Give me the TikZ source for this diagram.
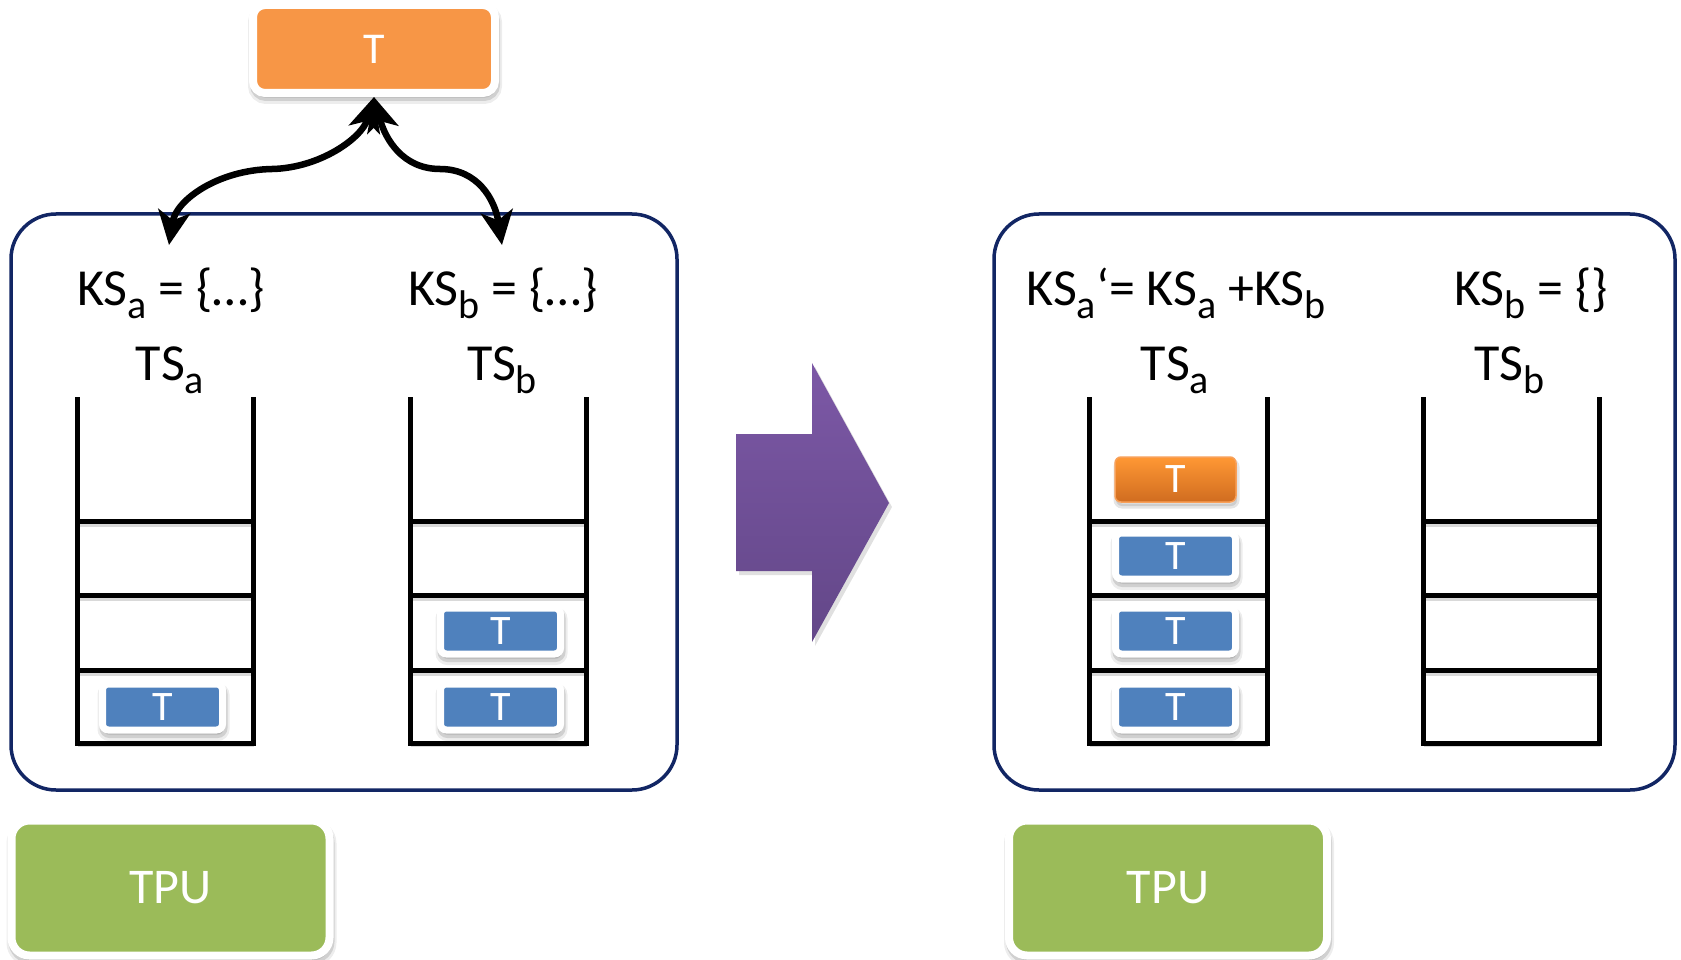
\documentclass[tikz,border=0pt]{standalone}
\usepackage{fontspec}
\setmainfont{Carlito}
\usetikzlibrary{arrows.meta,shadows}
\definecolor{torange}{HTML}{F79646}
\definecolor{tblue}{HTML}{4F81BD}
\definecolor{tgreen}{HTML}{9BBB59}
\definecolor{tnavy}{RGB}{18,38,100}
\definecolor{ptop}{RGB}{124,88,166}
\definecolor{pbot}{RGB}{99,71,136}
\definecolor{otop}{RGB}{255,152,52}
\definecolor{obot}{RGB}{208,108,32}
\newcommand{\sbs}[1]{\raisebox{-13pt}{\fontsize{40}{40}\selectfont #1}}
\tikzset{
  shad/.style={
    general shadow={fill=black,draw=black,line width=12pt,opacity=0.07,shadow xshift=1pt,shadow yshift=-5pt},
    general shadow={fill=black,draw=black,line width=8pt,opacity=0.12,shadow xshift=1pt,shadow yshift=-4pt}},
  oshad/.style={
    general shadow={fill=black,draw=black,line width=5pt,opacity=0.10,shadow xshift=1pt,shadow yshift=-4pt}},
  tbox/.style={shape=rectangle,rounded corners=6pt,fill=tblue,draw=white,line width=7pt,
    minimum width=120pt,minimum height=46pt,inner sep=0pt,text=white,
    font=\fontsize{42}{42}\selectfont,shad},
  obox/.style={shape=rectangle,rounded corners=6pt,top color=otop,bottom color=obot,draw=torange!90!white,line width=1.5pt,
    minimum width=121pt,minimum height=45pt,inner sep=0pt,text=white,
    font=\fontsize{42}{42}\selectfont,oshad},
  topbox/.style={shape=rectangle,rounded corners=12pt,fill=torange,draw=white,line width=8pt,
    minimum width=242pt,minimum height=88pt,inner sep=0pt,text=white,
    font=\fontsize{44}{44}\selectfont,shad},
  tpubox/.style={shape=rectangle,rounded corners=18pt,fill=tgreen,draw=white,line width=8pt,
    minimum width=318pt,minimum height=135pt,inner sep=0pt,text=white,
    font=\fontsize{50}{50}\selectfont,shad},
  bigbox/.style={draw=tnavy,line width=3.5pt,rounded corners=45pt},
  stk/.style={line width=5pt,draw=black},
  stkshadow/.style={line width=6pt,draw=black,opacity=0.15},
  lbl/.style={anchor=base,inner sep=0pt,font=\fontsize{52}{60}\selectfont},
  tip/.style={Stealth[length=34pt,width=32pt,inset=9pt,line width=1pt]},
  arr/.style={line width=6.5pt,{Stealth[length=34pt,width=32pt,inset=9pt]}-{Stealth[length=34pt,width=32pt,inset=9pt]}}
}
\begin{document}
\begin{tikzpicture}[x=1pt,y=-1pt]
\useasboundingbox (0,0) rectangle (1681,960);
\fill[white] (0,0) rectangle (1681,960);

% big boxes
\draw[bigbox] (11,214) rectangle (677,790);
\draw[bigbox] (994,214) rectangle (1675,790);

% top T
\node[topbox] (topT) at (374,49) {T};

% labels left
\node[lbl] (ksa) at (171,305) {KS\sbs{a} = \{…\}};
\node[lbl] (ksb) at (503,305) {KS\sbs{b} = \{…\}};
\node[lbl] (tsa) at (170,380) {TS\sbs{a}};
\node[lbl] (tsb) at (502,380) {TS\sbs{b}};
% labels right
\node[lbl] (ksa2) at (1176,305) {KS\sbs{a}‘= KS\sbs{a} +KS\sbs{b}};
\node[lbl] (ksb2) at (1531,305) {KS\sbs{b} = \{\}};
\node[lbl] (tsa2) at (1175,380) {TS\sbs{a}};
\node[lbl] (tsb2) at (1509,380) {TS\sbs{b}};

% stacks
\foreach \xa/\xb in {77/253, 410/586, 1089/1267, 1423/1599}{
  \draw[stkshadow] (\xa+1,744) -- (\xb+1,744);
  \foreach \yy in {521,595,670}{\draw[stkshadow] (\xa+1,\yy+3) -- (\xb+1,\yy+3);}
  \draw[stk,line join=miter] (\xa,397) -- (\xa,743) -- (\xb,743) -- (\xb,397);
  \foreach \yy in {521,595,670}{\draw[stk] (\xa,\yy) -- (\xb,\yy);}
}

% T boxes left
\node[tbox] (la1) at (162.5,707) {T};
\node[tbox] (lb1) at (500.5,707) {T};
\node[tbox] (lb2) at (500.5,631) {T};
% right
\node[tbox] (ra1) at (1175.5,707) {T};
\node[tbox] (ra2) at (1175.5,631) {T};
\node[tbox] (ra3) at (1175.5,556) {T};
\node[obox] (ra4) at (1175.5,479.5) {T};

% curved arrows
\coordinate (ea) at (169,245);
\coordinate (eb) at (502,245);
\draw[arr] (ea) .. controls (176,200) and (218,170) .. (272,169) .. controls (320,168) and (362,138) .. (topT.south);
\draw[arr] (eb) .. controls (495,200) and (478,169) .. (440,169) .. controls (402,169) and (385,138) .. (topT.south);

% purple arrow
\fill[black,opacity=0.12] (739,438) -- (815,438) -- (815,367) -- (892,507) -- (815,646) -- (815,575) -- (739,575) -- cycle;
\shade[top color=ptop,bottom color=pbot] (736,434) -- (812,434) -- (812,363) -- (889,503) -- (812,642) -- (812,571) -- (736,571) -- cycle;

% TPU
\node[tpubox] (tpu1) at (170.5,888) {TPU};
\node[tpubox] (tpu2) at (1168,888) {TPU};
\end{tikzpicture}
\end{document}
